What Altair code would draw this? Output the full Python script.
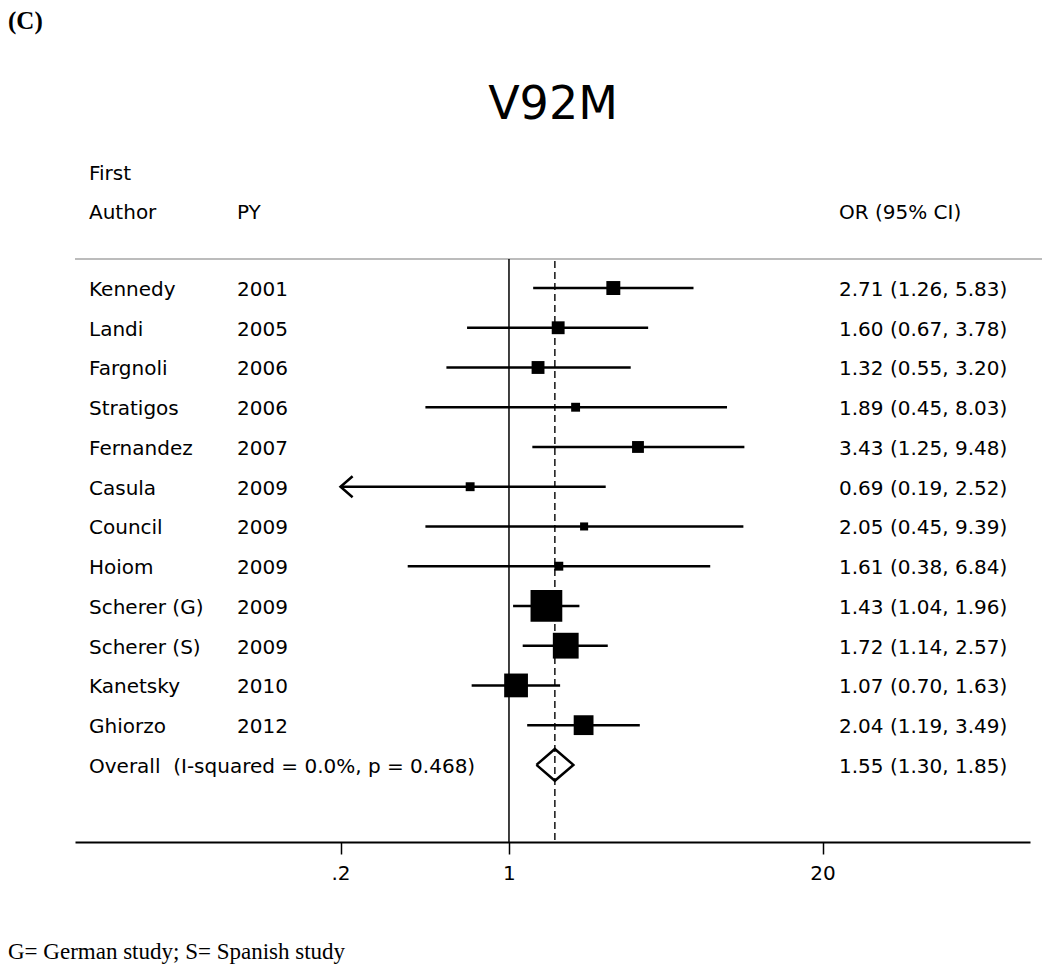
import altair as alt
import pandas as pd

# ---------------- data ----------------
AUTHORS = ["Kennedy", "Landi", "Fargnoli", "Stratigos", "Fernandez", "Casula",
           "Council", "Hoiom", "Scherer (G)", "Scherer (S)", "Kanetsky", "Ghiorzo"]
YEARS = ["2001", "2005", "2006", "2006", "2007", "2009",
         "2009", "2009", "2009", "2009", "2010", "2012"]
OR_EST = [2.71, 1.60, 1.32, 1.89, 3.43, 0.69, 2.05, 1.61, 1.43, 1.72, 1.07, 2.04]
OR_LOW = [1.26, 0.67, 0.55, 0.45, 1.25, 0.19, 0.45, 0.38, 1.04, 1.14, 0.70, 1.19]
OR_HIGH = [5.83, 3.78, 3.20, 8.03, 9.48, 2.52, 9.39, 6.84, 1.96, 2.57, 1.63, 3.49]
WEIGHTS = [5.4, 4.6, 4.6, 2.2, 3.9, 2.2, 1.8, 2.2, 28.0, 18.5, 15.7, 10.9]
OVERALL_LABEL = "Overall\u00a0 (I-squared = 0.0%, p = 0.468)"
OVERALL_EST, OVERALL_LOW, OVERALL_HIGH = 1.55, 1.30, 1.85
TICK_VALUES = [0.2, 1, 20]
TICK_LABELS = [".2", "1", "20"]
TITLE = "V92M"
PANEL = "(C)"
HEADER_1 = "First"
HEADER_AUTHOR = "Author"
HEADER_PY = "PY"
HEADER_OR = "OR (95% CI)"
FOOTNOTE = "G= German study; S= Spanish study"

# ---------------- tables ----------------
clip_lo = min(TICK_VALUES)
studies = pd.DataFrame({
    "row": list(range(len(AUTHORS))),
    "author": AUTHORS,
    "year": YEARS,
    "est": OR_EST,
    "low": OR_LOW,
    "high": OR_HIGH,
    "weight": WEIGHTS,
})
studies["low_disp"] = studies["low"].clip(lower=clip_lo)
studies["ortext"] = [f"{e:.2f} ({l:.2f}, {h:.2f})" for e, l, h in zip(OR_EST, OR_LOW, OR_HIGH)]
arrows = studies[studies["low"] < clip_lo]

ov_row = len(AUTHORS)
overall_text = pd.DataFrame({
    "row": [ov_row],
    "author": [OVERALL_LABEL],
    "ortext": [f"{OVERALL_EST:.2f} ({OVERALL_LOW:.2f}, {OVERALL_HIGH:.2f})"],
})
HALF = 0.4
diamond = pd.DataFrame({
    "x": [OVERALL_LOW, OVERALL_EST, OVERALL_HIGH, OVERALL_EST, OVERALL_LOW],
    "y": [ov_row, ov_row - HALF, ov_row, ov_row + HALF, ov_row],
    "o": [0, 1, 2, 3, 4],
})

# ---------------- scales / styles ----------------
W, H = 955, 583
FONT = "DejaVu Sans"
x_scale = alt.Scale(type="log", domain=[0.01582, 145.2], nice=False)
y_scale = alt.Scale(domain=[-0.73, 13.94], reverse=True, nice=False, zero=False)
label_expr = " : ".join(
    f"datum.value == {v} ? '{l}'" for v, l in zip(TICK_VALUES[:-1], TICK_LABELS[:-1])
) + f" : '{TICK_LABELS[-1]}'"
x_axis = alt.Axis(values=TICK_VALUES, labelExpr=label_expr, title=None, grid=False,
                  domainColor="black", domainWidth=2, tickColor="black", tickWidth=1.5,
                  tickSize=12, labelFontSize=20, labelFont=FONT, labelColor="black",
                  labelPadding=9, labelFlush=False)


def X(field):
    return alt.X(field, scale=x_scale, axis=x_axis)


def Y(field):
    return alt.Y(field, scale=y_scale, axis=None)


one = alt.Data(values=[{}])

gray_line = alt.Chart(one).mark_rule(color="#bcbcbc", strokeWidth=2).encode(
    x=alt.value(0), x2=alt.value(973), y=alt.value(0))

null_line = alt.Chart(one).mark_rule(color="black", strokeWidth=1.5).encode(
    x=alt.X(datum=1, scale=x_scale, axis=x_axis), y=alt.value(0), y2=alt.value(H))

ov_line = alt.Chart(one).mark_rule(color="#222222", strokeWidth=1.6, strokeDash=[7, 4]).encode(
    x=alt.X(datum=OVERALL_EST, scale=x_scale, axis=x_axis), y=alt.value(2), y2=alt.value(H))

ci = alt.Chart(studies).mark_rule(color="black", strokeWidth=2.5).encode(
    x=X("low_disp:Q"), x2="high:Q", y=Y("row:Q"))

boxes = alt.Chart(studies).mark_square(color="black", opacity=1).encode(
    x=X("est:Q"), y=Y("row:Q"),
    size=alt.Size("weight:Q", scale=alt.Scale(domain=[0, 100], range=[0, 3600]), legend=None))

arrow = alt.Chart(arrows).mark_point(
    shape="M1.15,-1L0,0L1.15,1", filled=False, color="black", strokeWidth=2.5,
    size=441, opacity=1).encode(x=X("low_disp:Q"), y=Y("row:Q"))

dia = alt.Chart(diamond).mark_line(color="black", strokeWidth=2.5).encode(
    x=X("x:Q"), y=Y("y:Q"), order="o:Q")

txt = dict(font=FONT, fontSize=20, color="black", baseline="middle", align="left", dy=2)
author_t = alt.Chart(studies).mark_text(**txt).encode(
    x=alt.value(14), y=Y("row:Q"), text="author:N")
year_t = alt.Chart(studies).mark_text(**txt).encode(
    x=alt.value(162), y=Y("row:Q"), text="year:N")
or_t = alt.Chart(studies).mark_text(**txt).encode(
    x=alt.value(764), y=Y("row:Q"), text="ortext:N")
ov_author_t = alt.Chart(overall_text).mark_text(**txt).encode(
    x=alt.value(14), y=Y("row:Q"), text="author:N")
ov_or_t = alt.Chart(overall_text).mark_text(**txt).encode(
    x=alt.value(764), y=Y("row:Q"), text="ortext:N")

h1 = alt.Chart(one).mark_text(text=HEADER_1, **txt).encode(x=alt.value(14), y=alt.value(-87))
h2 = alt.Chart(one).mark_text(text=HEADER_AUTHOR, **txt).encode(x=alt.value(14), y=alt.value(-48))
h3 = alt.Chart(one).mark_text(text=HEADER_PY, **txt).encode(x=alt.value(162), y=alt.value(-48))
h4 = alt.Chart(one).mark_text(text=HEADER_OR, **txt).encode(x=alt.value(764), y=alt.value(-48))

title_t = alt.Chart(one).mark_text(text=TITLE, font=FONT, fontSize=46, color="black",
                                   align="center", baseline="middle").encode(
    x=alt.value(478), y=alt.value(-154))
panel_t = alt.Chart(one).mark_text(text=PANEL, font="Liberation Serif", fontSize=25,
                                   fontWeight="bold", color="black", align="left",
                                   baseline="top").encode(x=alt.value(-67), y=alt.value(-250))
foot_t = alt.Chart(one).mark_text(text=FOOTNOTE, font="Liberation Serif", fontSize=23,
                                  color="black", align="left", baseline="middle").encode(
    x=alt.value(-67), y=alt.value(693))

chart = alt.layer(
    gray_line, null_line, ov_line, ci, boxes, arrow, dia,
    author_t, year_t, or_t, ov_author_t, ov_or_t, h1, h2, h3, h4,
    title_t, panel_t, foot_t,
).properties(
    width=W, height=H,
    background="white",
    padding={"left": 67, "top": 251, "right": 12, "bottom": 122},
    autosize=alt.AutoSizeParams(type="none"),
).configure_view(stroke=None, strokeWidth=0)

chart.save("out.html", embed_options={"renderer": "svg", "actions": False})
